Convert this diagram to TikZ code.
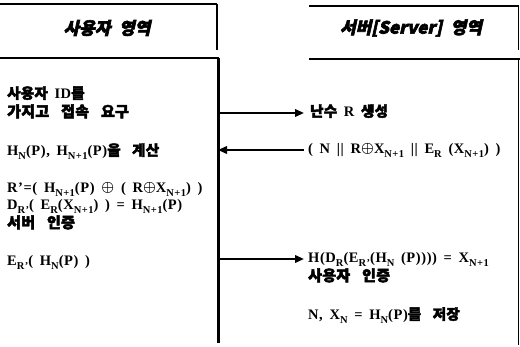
\documentclass[tikz,border=0pt]{standalone}
\usepackage{amsmath}
\usepackage{fontspec}
\setmainfont{Liberation Serif}[WordSpace=1.6,LetterSpace=4]
\newfontfamily\kr{Noto Sans CJK KR}[FakeBold=3,WordSpace=3.2,LetterSpace=2]
\newfontfamily\krhead{Noto Sans CJK KR}[FakeBold=3.5,FakeSlant=0.22,WordSpace=2.2]
\usetikzlibrary{arrows.meta}
\newcommand\K[1]{{\kr\bfseries #1}}
\newcommand\sbs[1]{\raisebox{-0.6ex}{\fontsize{10.5}{10.5}\selectfont #1}}
\newcommand\xor{\raisebox{0.1ex}{$\boldsymbol{\oplus}$}}
\begin{document}
\begin{tikzpicture}[x=1pt,y=-1pt,
  txt/.style={anchor=west,inner sep=0pt,text height=9.5pt,text depth=2.5pt,font=\fontsize{14.5}{15}\selectfont\bfseries},
  kt/.style={anchor=west,inner sep=0pt,text height=11pt,text depth=1pt,font=\fontsize{15}{15}\selectfont\kr\bfseries},
  head/.style={inner sep=0pt,font=\fontsize{17}{18}\selectfont\krhead\bfseries},
  thin/.style={line width=1.2pt},
  thick/.style={line width=2.4pt},
  arr/.style={line width=2pt,-{Triangle[length=9pt,width=7.5pt]}}]
\useasboundingbox (0,0) rectangle (520,347);
% header boxes
\draw[thin] (0,4) -- (217,4);
\draw[thick] (217,4) -- (217,50);
\draw[thick] (0,58) -- (219,58);
\draw[thin] (309,6) -- (519,6);
\draw[thin] (518.5,6) -- (518.5,50);
\draw[thick] (309,59) -- (520,59);
% lifelines
\coordinate (u0) at (218,58);
\coordinate (u1) at (218,343);
\draw[line width=3pt] (u0) -- (u1);
\coordinate (s0) at (518,59);
\coordinate (s1) at (518,345);
\draw[line width=1pt] (s0) -- (s1);
\node[head] (h1) at (107,28) {사용자 영역};
\node[head] (h2) at (411,28) {서버[Server] 영역};
% left texts
\node[txt] (l1) at (7,95) {\K{사용자} ID\K{를}};
\node[kt] (l2) at (7,112) {가지고 접속 요구};
\node[txt] (l3) at (7,152) {H\sbs{N}(P), H\sbs{N+1}(P)\K{을 계산}};
\node[txt] (l4) at (7,189) {R’=( H\sbs{N+1}(P) \xor{} ( R\xor X\sbs{N+1}) )};
\node[txt] (l5) at (7,206) {D\sbs{R’}( E\sbs{R}(X\sbs{N+1}) ) = H\sbs{N+1}(P)};
\node[kt] (l6) at (7,223) {서버 인증};
\node[txt] (l7) at (7,262) {E\sbs{R’}( H\sbs{N}(P) )};
% right texts
\node[txt] (r1) at (310,113) {\K{난수} R \K{생성}};
\node[txt] (r2) at (308,150) {( N || R\xor X\sbs{N+1} || E\sbs{R} (X\sbs{N+1}) )};
\node[txt] (r3) at (308,259) {H(D\sbs{R}(E\sbs{R’}(H\sbs{N} (P)))) = X\sbs{N+1}};
\node[kt] (r4) at (308,276) {사용자 인증};
\node[txt] (r5) at (308,316) {N, X\sbs{N} = H\sbs{N}(P)\K{를 저장}};
% arrows
\coordinate (a1) at (218,113);
\coordinate (a2) at (218,150);
\coordinate (a3) at (218,259);
\draw[arr] (a1) -- ([xshift=-6pt]a1 -| r1.west);
\draw[arr] ([xshift=-4pt]a2 -| r2.west) -- (a2);
\draw[arr] (a3) -- ([xshift=-4pt]a3 -| r3.west);
\end{tikzpicture}
\end{document}
